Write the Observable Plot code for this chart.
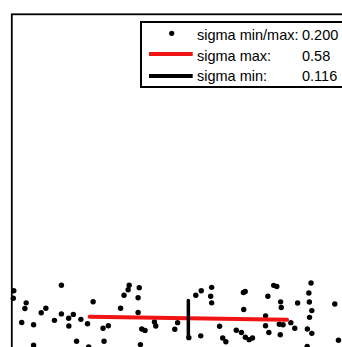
<!DOCTYPE html>
<html>
<head>
<meta charset="utf-8">
<script src="https://cdn.jsdelivr.net/npm/d3@7"></script>
<script src="https://cdn.jsdelivr.net/npm/@observablehq/plot@0.6"></script>
<style>
  html, body { margin: 0; padding: 0; background: #fff; }
  #wrap { position: relative; width: 342px; height: 347px; overflow: hidden; background: #fff; }
  #chart { position: absolute; left: 0; top: 0; width: 380px; height: 410px; }
  #chart svg { max-width: none !important; width: 380px !important; height: 410px !important; display: block; }
  #legend {
    position: absolute; left: 140px; top: 21px; width: 260px; height: 67.3px;
    box-sizing: border-box; border: 2px solid #000; background: #fff;
  }
  .row { position: absolute; font-family: "Liberation Sans", Arial, sans-serif; font-size: 14.5px; line-height: 14.5px; color: #000; white-space: nowrap; }
  #legsym { position: absolute; left: 0; top: 0; }
</style>
</head>
<body>
<div id="wrap">
  <div id="chart"></div>
  <div id="legend"></div>
</div>
<script>
// scattered samples (x, y)
const xs = [-1.056,-1.059,-0.768,-0.981,-0.989,-0.862,-0.890,-0.768,-0.810,-1.008,-0.936,-0.724,-0.723,-0.936,
  -0.696,-0.650,-0.610,-0.576,-0.516,-0.484,-0.410,-0.389,-0.364,-0.358,-0.676,-0.510,-0.603,
  -0.297,-0.304,-0.304,-0.282,-0.262,-0.205,-0.197,-0.290,-0.082,-0.065,0.003,
  0.045,0.078,0.075,0.141,0.135,0.141,0.189,0.208,0.227,0.290,0.321,0.345,0.368,0.388,
  0.333,0.344,0.335,0.467,0.467,0.487,0.481,0.516,0.535,0.558,0.562,0.550,0.573,0.556,
  0.620,0.644,0.661,0.742,0.729,0.732,0.747,0.733,0.720,0.747,0.719,0.886,0.908];
const ys = [0.168,0.123,0.202,0.095,0.061,0.062,0.035,0.028,-0.011,-0.024,-0.038,0.002,-0.045,-0.162,
  0.025,-0.005,-0.032,0.102,-0.059,-0.044,0.062,0.141,0.174,0.202,-0.138,-0.138,-0.173,
  0.187,0.126,0.036,-0.064,-0.072,-0.021,-0.045,-0.158,-0.065,-0.025,-0.116,
  0.141,0.168,-0.105,0.189,0.135,0.095,-0.047,-0.118,-0.141,-0.071,-0.085,-0.114,-0.128,-0.118,
  0.158,0.164,0.055,0.016,-0.044,-0.085,0.135,0.201,0.194,0.101,0.067,-0.035,-0.038,-0.098,
  -0.025,-0.059,0.094,0.215,0.155,0.100,0.048,0.007,-0.064,-0.090,-0.170,0.088,-0.132];

// major (sigma max) and minor (sigma min) axes
const redLineX = [-0.597, 0.597];
const redLineY = [0.010, -0.008];
const blackLineX = [0, 0];
const blackLineY = [0.109, -0.113];

// legend
const legendLabels = ["sigma min/max:", "sigma max:", "sigma min:"];
const legendValues = ["0.200", "0.58", "0.116"];

const points = xs.map((x, i) => ({x, y: ys[i]}));
const red = redLineX.map((x, i) => ({x, y: redLineY[i]}));
const black = blackLineX.map((x, i) => ({x, y: blackLineY[i]}));

const chart = Plot.plot({
  width: 380,
  height: 410,
  marginLeft: 11.3,
  marginTop: 13.8,
  marginRight: 15.6,
  marginBottom: 9.5,
  x: {domain: [-1.068, 1.068], axis: null},
  y: {domain: [-0.5, 1.844], axis: null},
  style: {background: "#fff", overflow: "visible", maxWidth: "none"},
  marks: [
    Plot.dot(points, {x: "x", y: "y", r: 2.7, fill: "#000", stroke: "none"}),
    Plot.line(red, {x: "x", y: "y", stroke: "#f01414", strokeWidth: 4}),
    Plot.line(black, {x: "x", y: "y", stroke: "#000", strokeWidth: 3.5}),
    Plot.frame({stroke: "#000", strokeWidth: 1.8})
  ]
});
document.getElementById("chart").appendChild(chart);

// legend (positions relative to legend box, border 2px)
const legend = document.getElementById("legend");
const ox = 142, oy = 23; // inner origin in page coords
const rowTops = [27.7, 48.6, 69.4];
legendLabels.forEach((lab, i) => {
  const a = document.createElement("div");
  a.className = "row";
  a.style.left = (197 - ox) + "px";
  a.style.top = (rowTops[i] - oy) + "px";
  a.textContent = lab;
  legend.appendChild(a);
  const b = document.createElement("div");
  b.className = "row";
  b.style.left = (302 - ox) + "px";
  b.style.top = (rowTops[i] - oy) + "px";
  b.textContent = legendValues[i];
  legend.appendChild(b);
});
const svg = d3.select(legend).append("svg").attr("id", "legsym").attr("width", 60).attr("height", 64);
svg.append("circle").attr("cx", 171.7 - ox).attr("cy", 33.3 - oy).attr("r", 2.6).attr("fill", "#000");
svg.append("line").attr("x1", 149 - ox).attr("x2", 192.7 - ox).attr("y1", 54 - oy).attr("y2", 54 - oy).attr("stroke", "#f01414").attr("stroke-width", 4);
svg.append("line").attr("x1", 149 - ox).attr("x2", 192.7 - ox).attr("y1", 76 - oy).attr("y2", 76 - oy).attr("stroke", "#000").attr("stroke-width", 4);
</script>
</body>
</html>
